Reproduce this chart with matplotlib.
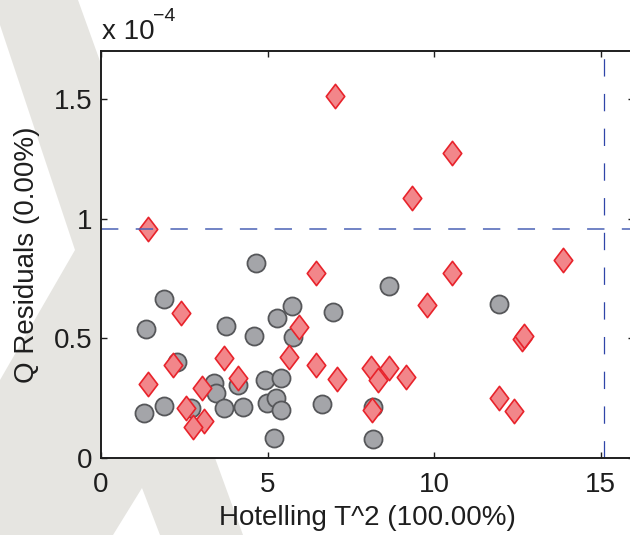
"""Hotelling T^2 vs Q residuals scatter, with the 95% limit lines."""

from __future__ import annotations

import matplotlib

matplotlib.use("Agg")

import matplotlib.pyplot as plt
import numpy as np
from matplotlib.patches import Polygon
from matplotlib.path import Path as MplPath
from matplotlib.ticker import FuncFormatter

# calibration samples (grey circles)
t2_calibration = [
    1.35, 1.89, 1.29, 1.89, 2.28, 2.70, 3.39, 3.45, 3.75, 3.69,
    4.26, 4.11, 4.59, 4.65, 4.92, 4.98, 5.40, 5.25, 5.40, 5.19,
    5.28, 5.73, 5.76, 6.63, 6.96, 8.64, 11.94, 8.16, 8.16,
]
q_calibration = [
    0.540, 0.665, 0.188, 0.218, 0.402, 0.209, 0.314, 0.272, 0.552, 0.209,
    0.213, 0.305, 0.510, 0.816, 0.326, 0.230, 0.335, 0.251, 0.201, 0.084,
    0.586, 0.636, 0.506, 0.226, 0.611, 0.720, 0.644, 0.213, 0.079,
]

# test samples (red diamonds)
t2_test = [
    1.41, 7.02, 10.53, 9.33, 13.86, 10.53, 9.78, 12.63, 12.69, 8.10,
    8.64, 8.31, 9.15, 7.08, 11.94, 12.39, 8.13, 6.45, 6.45, 2.40,
    5.94, 5.64, 2.16, 3.69, 1.41, 4.11, 3.03, 2.55, 3.09, 2.76,
]
q_test = [
    0.958, 1.510, 1.276, 1.084, 0.828, 0.774, 0.640, 0.498, 0.510, 0.377,
    0.377, 0.326, 0.339, 0.331, 0.251, 0.197, 0.201, 0.389, 0.774, 0.607,
    0.548, 0.423, 0.389, 0.418, 0.310, 0.335, 0.293, 0.209, 0.155, 0.130,
]

# confidence limits
t2_limit = 15.09
q_limit = 0.957

q_scale = 1e-4  # q values above are in units of 1e-4
x_ticks = [0, 5, 10, 15]
y_ticks = [0, 0.5, 1, 1.5]
x_label = "Hotelling T^2 (100.00%)"
y_label = "Q Residuals (0.00%)"

FIG_W, FIG_H = 630, 535
TEXT_SIZE = 20
INK = "#1e1e1e"


def _px(x: float, y: float) -> tuple[float, float]:
    """Pixel position (origin top-left) to figure fraction."""
    return x / FIG_W, 1.0 - y / FIG_H


def add_background_shape(figure: plt.Figure) -> None:
    """Light grey backdrop shape behind the axes."""
    corners = [
        (0, 0), (78, 0), (150, 200), (200, 420), (215, 458), (243, 535),
        (160, 535), (142, 488), (113, 535), (0, 535), (0, 380), (75, 250), (0, 25),
    ]
    shape = Polygon(
        [_px(x, y) for x, y in corners],
        closed=True,
        transform=figure.transFigure,
        facecolor="#e6e5e1",
        edgecolor="none",
        zorder=-5,
    )
    figure.patches.append(shape)


def main() -> None:
    plt.rcParams["font.family"] = ["Liberation Sans", "DejaVu Sans"]
    plt.rcParams["lines.scale_dashes"] = False

    figure = plt.figure(figsize=(FIG_W / 100, FIG_H / 100), dpi=100)
    figure.patch.set_facecolor("white")
    add_background_shape(figure)

    left, bottom = _px(101, 458)
    right, top = _px(634, 51)
    axis = figure.add_axes([left, bottom, right - left, top - bottom])
    axis.set_facecolor("white")

    diamond = MplPath([(0, 1), (0.76, 0), (0, -1), (-0.76, 0), (0, 1)], closed=True)

    q_cal = np.asarray(q_calibration) * q_scale
    q_tst = np.asarray(q_test) * q_scale

    axis.plot(
        t2_calibration, q_cal, linestyle="none", marker="o", markersize=13,
        markerfacecolor="#a4a5a9", markeredgecolor="#56575a", markeredgewidth=1.3,
    )
    axis.plot(
        t2_test, q_tst, linestyle="none", marker=diamond, markersize=17.5,
        markerfacecolor="#f2868a", markeredgecolor="#e8232b", markeredgewidth=1.2,
    )

    dash = (0, (12.5, 12.5))
    axis.axhline(q_limit * q_scale, color="#4a62b5", linewidth=1.1, linestyle=dash)
    axis.axvline(t2_limit, color="#2f45a8", linewidth=0.9, linestyle=dash)

    axis.set_xlim(0, 16)
    axis.set_ylim(0, 1.7 * q_scale)
    axis.set_xticks(x_ticks)
    axis.set_yticks([v * q_scale for v in y_ticks])
    axis.yaxis.set_major_formatter(FuncFormatter(lambda v, _: f"{v / q_scale:g}"))

    for spine in axis.spines.values():
        spine.set_linewidth(1.4)
        spine.set_color(INK)
    axis.tick_params(
        which="both", direction="in", length=4, width=1.0, color=INK,
        top=True, right=True, labelsize=TEXT_SIZE, labelcolor=INK,
    )
    axis.tick_params(axis="x", pad=10)
    axis.tick_params(axis="y", pad=6)

    axis.set_xlabel(x_label, fontsize=TEXT_SIZE, color=INK, labelpad=5)
    axis.set_ylabel(y_label, fontsize=TEXT_SIZE, color=INK, labelpad=10)

    # MATLAB style exponent above the y axis
    fx, fy = _px(102, 39)
    figure.text(fx, fy, "x 10", fontsize=TEXT_SIZE, color=INK, va="baseline", ha="left")
    fx, fy = _px(153, 21)
    figure.text(fx, fy, "\u22124", fontsize=14, color=INK, va="baseline", ha="left")

    figure.savefig("out.png", dpi=100)
    plt.close(figure)


if __name__ == "__main__":
    main()
